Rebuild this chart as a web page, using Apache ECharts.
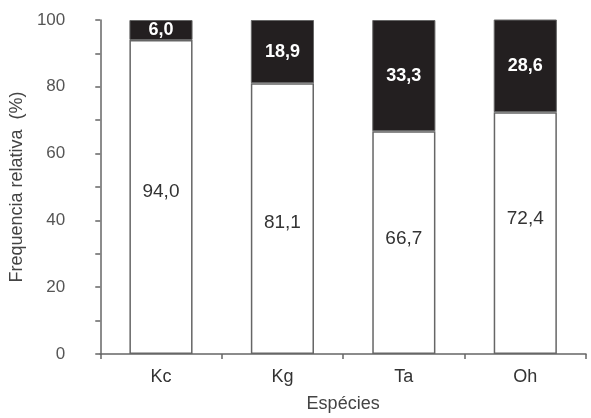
<!DOCTYPE html>
<html><head><meta charset="utf-8">
<script src="https://cdn.jsdelivr.net/npm/echarts@6/dist/echarts.min.js"></script>
<style>html,body{margin:0;padding:0;background:#fff}#c{width:591px;height:418px}</style>
</head><body><div id="c"></div>
<script>
const categories = ['Kc', 'Kg', 'Ta', 'Oh'];
const whiteValues = [94.0, 81.1, 66.7, 72.4];
const blackValues = [6.0, 18.9, 33.3, 28.6];
const yTicks = [0, 20, 40, 60, 80, 100];
// label nudges (style only)
const whiteLabelShift = [-5, 4, -4, -14];

const fmt = p => p.value.toFixed(1).replace('.', ',');
const chart = echarts.init(document.getElementById('c'));
chart.setOption({
  animation: false,
  grid: {left: 97, right: 5, top: 20, bottom: 61},
  xAxis: {
    type: 'category', data: categories,
    name: 'Espécies', nameLocation: 'middle', nameGap: 41,
    nameTextStyle: {fontFamily: 'Liberation Sans', fontSize: 18, color: '#444'},
    axisLine: {lineStyle: {color: '#666', width: 1.5}},
    axisTick: {show: true, length: 5, lineStyle: {color: '#666', width: 1.5}},
    axisLabel: {fontFamily: 'Liberation Sans', fontSize: 18, color: '#333', margin: 14}
  },
  yAxis: {
    type: 'value', min: yTicks[0], max: yTicks[yTicks.length - 1], interval: 20,
    name: 'Frequencia relativa  (%)', nameLocation: 'middle', nameGap: 62,
    nameTextStyle: {fontFamily: 'Liberation Sans', fontSize: 18, color: '#444'},
    axisLine: {show: true, lineStyle: {color: '#666', width: 1.5}},
    axisTick: {show: true, length: 5, lineStyle: {color: '#666', width: 1.5}},
    minorTick: {show: true, splitNumber: 2, length: 5, lineStyle: {color: '#666', width: 1.5}},
    splitLine: {show: false},
    axisLabel: {fontFamily: 'Liberation Sans', fontSize: 17, color: '#555', margin: 35}
  },
  series: [
    {
      type: 'bar', stack: 's', barWidth: '52%',
      data: whiteValues.map((v, i) => ({value: v, label: {offset: [0, whiteLabelShift[i]]}})),
      itemStyle: {color: '#fff', borderColor: '#666', borderWidth: 1.5},
      label: {show: true, position: 'inside', formatter: fmt,
        fontFamily: 'Liberation Sans', fontSize: 19, color: '#333'}
    },
    {
      type: 'bar', stack: 's', data: blackValues, barWidth: '52%',
      itemStyle: {color: '#231f20', borderColor: '#666', borderWidth: 1},
      label: {show: true, position: 'inside', formatter: fmt,
        fontFamily: 'Liberation Sans', fontSize: 18, fontWeight: 'bold', color: '#fff'}
    }
  ]
});
</script></body></html>
